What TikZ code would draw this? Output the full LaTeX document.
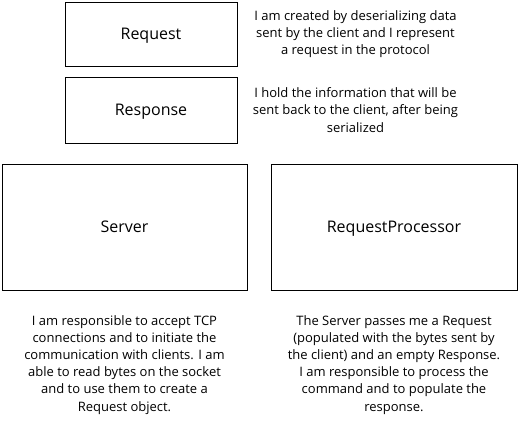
\documentclass[tikz,border=0pt]{standalone}
\usepackage{fontspec}
\setmainfont{Open Sans}
\usepackage{tikz}
\tikzset{
    classbox/.style={draw=black, fill=white, line width=1pt, inner sep=0pt, text height=11.4pt, text depth=0pt, font=\fontsize{16}{19}\selectfont},
    notetext/.style={align=center, inner sep=0pt, font=\fontsize{13}{17.2}\selectfont}
}

\begin{document}
\begin{tikzpicture}[x=1pt, y=-1pt]
    \useasboundingbox (0,0) rectangle (518,423);

    %classes on top
    \node [classbox, minimum width=172, minimum height=64] (request) at (151,34) {Request};
    \node [classbox, minimum width=172, minimum height=66] (response) at (151,110) {Response};

    %notes for request and response
    \node [notetext] (requestnote) at (355.5,34) {I am created by deserializing data\\sent by the client and I represent\\a request in the protocol};
    \node [notetext] (responsenote) at (355.5,110) {I hold the information that will be\\sent back to the client, after being\\serialized};

    %classes below
    \node [classbox, minimum width=245, minimum height=126] (server) at (124.5,227) {Server};
    \node [classbox, minimum width=246, minimum height=126] (processor) at (394,227) {RequestProcessor};

    %notes for server and processor
    \node [notetext] (servernote) at (124.5,364.7) {I am responsible to accept TCP\\connections and to initiate the\\communication with clients. I am\\able to read bytes on the socket\\and to use them to create a\\Request object.};
    \node [notetext] (processornote) at (394,364.7) {The Server passes me a Request\\(populated with the bytes sent by\\the client) and an empty Response.\\I am responsible to process the\\command and to populate the\\response.};

\end{tikzpicture}
\end{document}
